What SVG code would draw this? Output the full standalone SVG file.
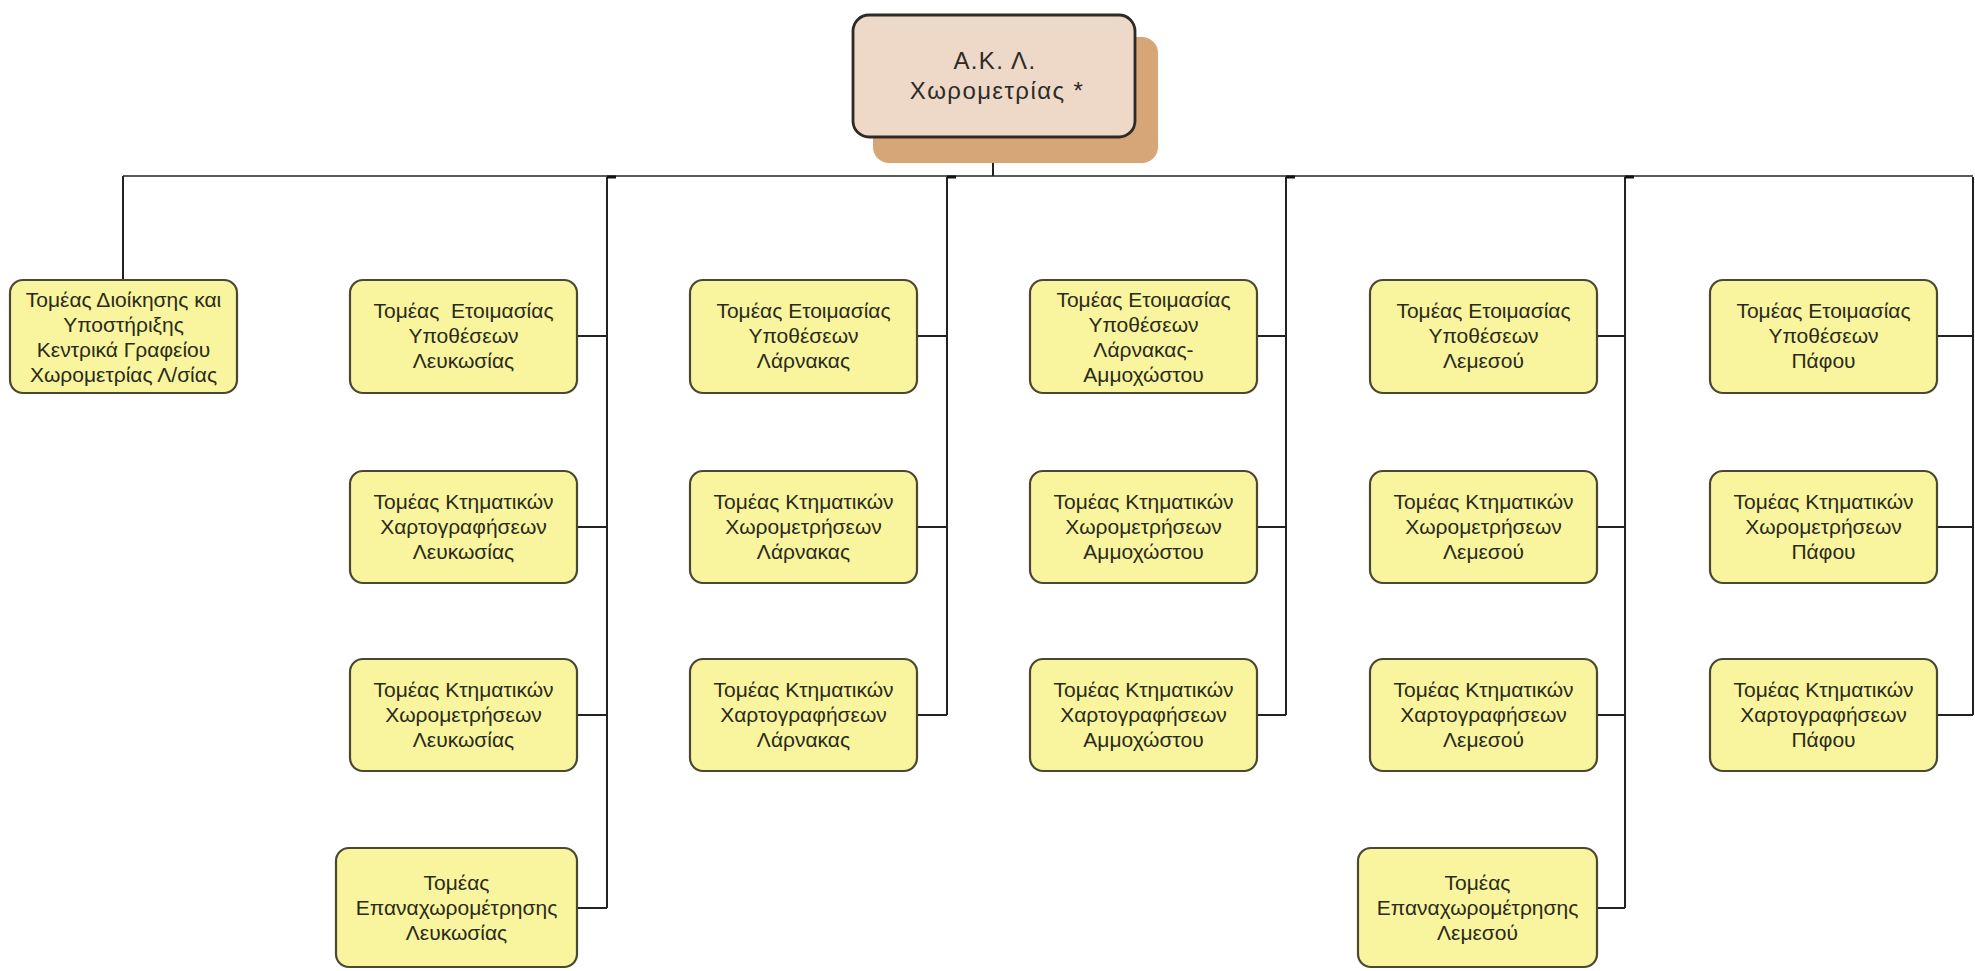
<svg xmlns="http://www.w3.org/2000/svg" width="1975" height="971" viewBox="0 0 1975 971">
<style>
.box{fill:#F9F59E;stroke:#4A4732;stroke-width:2.2}
.t{font-family:"Liberation Sans",Arial,sans-serif;font-size:21px;fill:#2A2A1A;text-anchor:middle;white-space:pre}
.rt{font-family:"Liberation Sans",Arial,sans-serif;font-size:24px;letter-spacing:1.4px;fill:#2E2A26;text-anchor:middle}
.ln{fill:none;stroke:#222;stroke-width:2}
.bus{fill:none;stroke:#5A5A5A;stroke-width:2.2}
.tick{fill:none;stroke:#111;stroke-width:3}
</style>
<rect width="1975" height="971" fill="#FFFFFF"/>
<g id="connectors">
<path class="bus" d="M123 176 H1973"/>
<path class="ln" d="M993 137 V176"/>
<path class="ln" d="M123 176 V280"/>
<path class="ln" d="M607 177 V908 M577 336 H607 M577 527 H607 M577 715 H607 M577 908 H607"/>
<path class="ln" d="M947 177 V715 M917 336 H947 M917 527 H947 M917 715 H947"/>
<path class="ln" d="M1286 177 V715 M1257 336 H1286 M1257 527 H1286 M1257 715 H1286"/>
<path class="ln" d="M1625 177 V908 M1597 336 H1625 M1597 527 H1625 M1597 715 H1625 M1597 908 H1625"/>
<path class="ln" d="M1973 177 V715 M1937 336 H1973 M1937 527 H1973 M1937 715 H1973"/>
<path class="tick" d="M607 177 H616 M947 177 H956 M1286 177 H1295 M1625 177 H1634"/>
</g>
<g id="root">
<rect x="873" y="37" width="285" height="126" rx="16" fill="#D6A677"/>
<rect x="853" y="15" width="282" height="122" rx="16" fill="#EED8C8" stroke="#2E2A26" stroke-width="2.8"/>
<text class="rt" x="995" y="69">Α.Κ. Λ.</text>
<text class="rt" x="997" y="99">Χωρομετρίας *</text>
</g>
<g id="n-dioikisi">
<rect class="box" x="10" y="280" width="227" height="113" rx="13"/>
<text class="t" x="123.5" y="307">Τομέας Διοίκησης και</text>
<text class="t" x="123.5" y="332">Υποστήριξης</text>
<text class="t" x="123.5" y="357">Κεντρικά Γραφείου</text>
<text class="t" x="123.5" y="382">Χωρομετρίας Λ/σίας</text>
</g>
<g id="n-lef-etoim">
<rect class="box" x="350" y="280" width="227" height="113" rx="13"/>
<text class="t" x="463.5" y="318">Τομέας  Ετοιμασίας</text>
<text class="t" x="463.5" y="343">Υποθέσεων</text>
<text class="t" x="463.5" y="368">Λευκωσίας</text>
</g>
<g id="n-lef-xart">
<rect class="box" x="350" y="471" width="227" height="112" rx="13"/>
<text class="t" x="463.5" y="509">Τομέας Κτηματικών</text>
<text class="t" x="463.5" y="534">Χαρτογραφήσεων</text>
<text class="t" x="463.5" y="559">Λευκωσίας</text>
</g>
<g id="n-lef-xor">
<rect class="box" x="350" y="659" width="227" height="112" rx="13"/>
<text class="t" x="463.5" y="697">Τομέας Κτηματικών</text>
<text class="t" x="463.5" y="722">Χωρομετρήσεων</text>
<text class="t" x="463.5" y="747">Λευκωσίας</text>
</g>
<g id="n-lef-epan">
<rect class="box" x="336" y="848" width="241" height="119" rx="13"/>
<text class="t" x="456.5" y="890">Τομέας</text>
<text class="t" x="456.5" y="915">Επαναχωρομέτρησης</text>
<text class="t" x="456.5" y="940">Λευκωσίας</text>
</g>
<g id="n-lar-etoim">
<rect class="box" x="690" y="280" width="227" height="113" rx="13"/>
<text class="t" x="803.5" y="318">Τομέας Ετοιμασίας</text>
<text class="t" x="803.5" y="343">Υποθέσεων</text>
<text class="t" x="803.5" y="368">Λάρνακας</text>
</g>
<g id="n-lar-xor">
<rect class="box" x="690" y="471" width="227" height="112" rx="13"/>
<text class="t" x="803.5" y="509">Τομέας Κτηματικών</text>
<text class="t" x="803.5" y="534">Χωρομετρήσεων</text>
<text class="t" x="803.5" y="559">Λάρνακας</text>
</g>
<g id="n-lar-xart">
<rect class="box" x="690" y="659" width="227" height="112" rx="13"/>
<text class="t" x="803.5" y="697">Τομέας Κτηματικών</text>
<text class="t" x="803.5" y="722">Χαρτογραφήσεων</text>
<text class="t" x="803.5" y="747">Λάρνακας</text>
</g>
<g id="n-amm-etoim">
<rect class="box" x="1030" y="280" width="227" height="113" rx="13"/>
<text class="t" x="1143.5" y="307">Τομέας Ετοιμασίας</text>
<text class="t" x="1143.5" y="332">Υποθέσεων</text>
<text class="t" x="1143.5" y="357">Λάρνακας-</text>
<text class="t" x="1143.5" y="382">Αμμοχώστου</text>
</g>
<g id="n-amm-xor">
<rect class="box" x="1030" y="471" width="227" height="112" rx="13"/>
<text class="t" x="1143.5" y="509">Τομέας Κτηματικών</text>
<text class="t" x="1143.5" y="534">Χωρομετρήσεων</text>
<text class="t" x="1143.5" y="559">Αμμοχώστου</text>
</g>
<g id="n-amm-xart">
<rect class="box" x="1030" y="659" width="227" height="112" rx="13"/>
<text class="t" x="1143.5" y="697">Τομέας Κτηματικών</text>
<text class="t" x="1143.5" y="722">Χαρτογραφήσεων</text>
<text class="t" x="1143.5" y="747">Αμμοχώστου</text>
</g>
<g id="n-lem-etoim">
<rect class="box" x="1370" y="280" width="227" height="113" rx="13"/>
<text class="t" x="1483.5" y="318">Τομέας Ετοιμασίας</text>
<text class="t" x="1483.5" y="343">Υποθέσεων</text>
<text class="t" x="1483.5" y="368">Λεμεσού</text>
</g>
<g id="n-lem-xor">
<rect class="box" x="1370" y="471" width="227" height="112" rx="13"/>
<text class="t" x="1483.5" y="509">Τομέας Κτηματικών</text>
<text class="t" x="1483.5" y="534">Χωρομετρήσεων</text>
<text class="t" x="1483.5" y="559">Λεμεσού</text>
</g>
<g id="n-lem-xart">
<rect class="box" x="1370" y="659" width="227" height="112" rx="13"/>
<text class="t" x="1483.5" y="697">Τομέας Κτηματικών</text>
<text class="t" x="1483.5" y="722">Χαρτογραφήσεων</text>
<text class="t" x="1483.5" y="747">Λεμεσού</text>
</g>
<g id="n-lem-epan">
<rect class="box" x="1358" y="848" width="239" height="119" rx="13"/>
<text class="t" x="1477.5" y="890">Τομέας</text>
<text class="t" x="1477.5" y="915">Επαναχωρομέτρησης</text>
<text class="t" x="1477.5" y="940">Λεμεσού</text>
</g>
<g id="n-paf-etoim">
<rect class="box" x="1710" y="280" width="227" height="113" rx="13"/>
<text class="t" x="1823.5" y="318">Τομέας Ετοιμασίας</text>
<text class="t" x="1823.5" y="343">Υποθέσεων</text>
<text class="t" x="1823.5" y="368">Πάφου</text>
</g>
<g id="n-paf-xor">
<rect class="box" x="1710" y="471" width="227" height="112" rx="13"/>
<text class="t" x="1823.5" y="509">Τομέας Κτηματικών</text>
<text class="t" x="1823.5" y="534">Χωρομετρήσεων</text>
<text class="t" x="1823.5" y="559">Πάφου</text>
</g>
<g id="n-paf-xart">
<rect class="box" x="1710" y="659" width="227" height="112" rx="13"/>
<text class="t" x="1823.5" y="697">Τομέας Κτηματικών</text>
<text class="t" x="1823.5" y="722">Χαρτογραφήσεων</text>
<text class="t" x="1823.5" y="747">Πάφου</text>
</g>
</svg>
